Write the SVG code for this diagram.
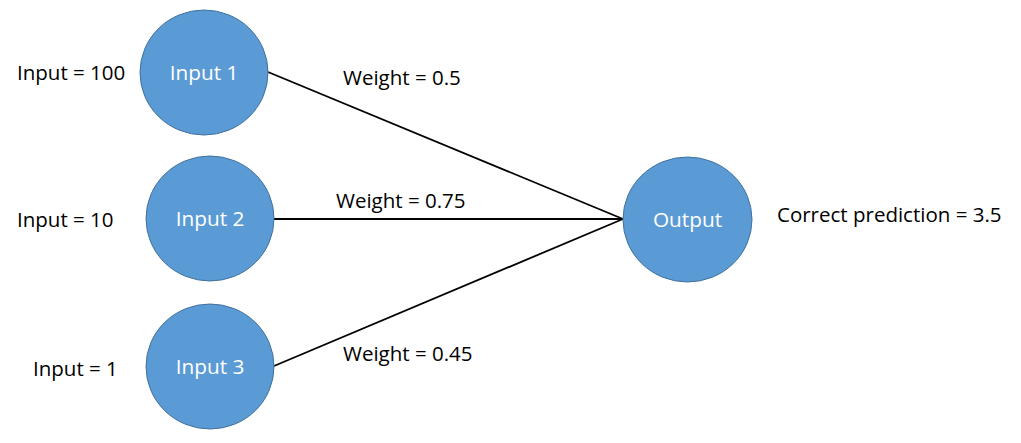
<svg xmlns="http://www.w3.org/2000/svg" width="1021" height="443" viewBox="0 0 1021 443">
<style>
.node{fill:#5b9bd5;stroke:#41719c;stroke-width:1}
.nl{font-family:"Open Sans","Liberation Sans",sans-serif;font-size:20.8px;fill:#ffffff;text-anchor:middle}
.lbl{font-family:"Open Sans","Liberation Sans",sans-serif;font-size:20.5px;fill:#000000}
.edge{stroke:#000000;stroke-width:1.8;fill:none}
</style>
<rect width="1021" height="443" fill="#ffffff"/>
<g id="connectors">
<line class="edge" x1="268" y1="72" x2="623" y2="219"/>
<line class="edge" x1="274" y1="219" x2="623" y2="219"/>
<line class="edge" x1="274" y1="366" x2="623" y2="219"/>
</g>
<g id="input1">
<ellipse class="node" cx="204" cy="72.5" rx="64" ry="62.5"/>
<text class="nl" x="204" y="80">Input 1</text>
</g>
<g id="input2">
<ellipse class="node" cx="210" cy="218.5" rx="64" ry="62.5"/>
<text class="nl" x="210" y="226">Input 2</text>
</g>
<g id="input3">
<ellipse class="node" cx="210" cy="366.5" rx="64" ry="62.5"/>
<text class="nl" x="210" y="374">Input 3</text>
</g>
<g id="output">
<ellipse class="node" cx="687.5" cy="219.5" rx="64.5" ry="62.5"/>
<text class="nl" x="687.5" y="227">Output</text>
</g>
<g id="labels">
<text class="lbl" x="17" y="80">Input = 100</text>
<text class="lbl" x="17" y="227">Input = 10</text>
<text class="lbl" x="33" y="376">Input = 1</text>
<text class="lbl" x="343" y="85">Weight = 0.5</text>
<text class="lbl" x="336" y="208">Weight = 0.75</text>
<text class="lbl" x="343" y="361">Weight = 0.45</text>
<text class="lbl" x="777" y="222">Correct prediction = 3.5</text>
</g>
</svg>
